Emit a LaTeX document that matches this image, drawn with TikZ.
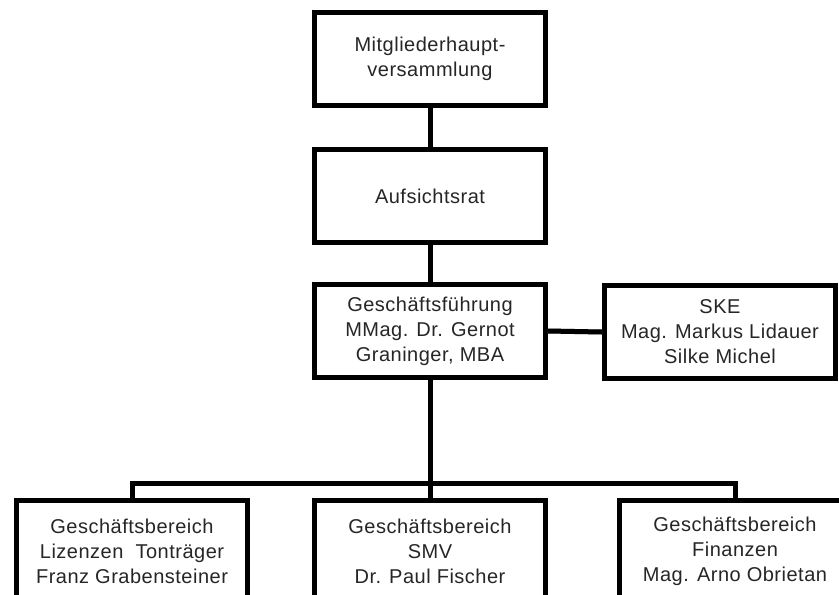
\documentclass[tikz,border=0pt]{standalone}
\usepackage{fontspec}
\setmainfont{Liberation Sans}[LetterSpace=2.5]
\usepackage{tikz}

\begin{document}
\begin{tikzpicture}[x=0.75pt,y=-0.75pt,
    orgbox/.style={draw=black,fill=white,line width=3.75pt,minimum width=173pt,minimum height=70pt,
      align=center,inner sep=0pt,text=black!85,font=\fontsize{15pt}{18.8pt}\selectfont},
    lowbox/.style={orgbox,minimum height=76pt},
    conn/.style={line width=3.75pt,black},
    connshadow/.style={line width=3.75pt,black!35,shift={(1.5,3)}}]
      \useasboundingbox (0,0) rectangle (839,594);
      \node[orgbox] (mhv) at (430,59) {Mitgliederhaupt-\\versammlung};
      \node[orgbox] (ar) at (430,196) {Aufsichtsrat};
      \node[orgbox] (gf) at (430,331) {Geschäftsführung\\MMag. Dr. Gernot\\Graninger, MBA};
      \node[orgbox] (ske) at (720,332) {SKE\\Mag. Markus Lidauer\\Silke Michel};
      \node[lowbox] (lizenzen) at (132,551) {Geschäftsbereich\\Lizenzen\ \ Tonträger\\Franz Grabensteiner};
      \node[lowbox] (smv) at (430,551) {Geschäftsbereich\\SMV\\Dr. Paul Fischer};
      \node[lowbox] (finanzen) at (735,551) {Geschäftsbereich\\Finanzen\\Mag. Arno Obrietan};
      \coordinate (bus) at (430,483);
      % shadows
      \draw[connshadow] (mhv.south) -- (ar.north);
      \draw[connshadow] (ar.south) -- (gf.north);
      \draw[connshadow] (gf.east) -- (ske.west);
      \draw[connshadow] (lizenzen.north) |- (bus) -| (finanzen.north);
      % lines
      \draw[conn] (mhv.south) -- (ar.north);
      \draw[conn] (ar.south) -- (gf.north);
      \draw[conn] (gf.east) -- (ske.west);
      \draw[conn] (gf.south) -- (bus) -- (smv.north);
      \draw[conn] (lizenzen.north) |- (bus) -| (finanzen.north);
\end{tikzpicture}
\end{document}
